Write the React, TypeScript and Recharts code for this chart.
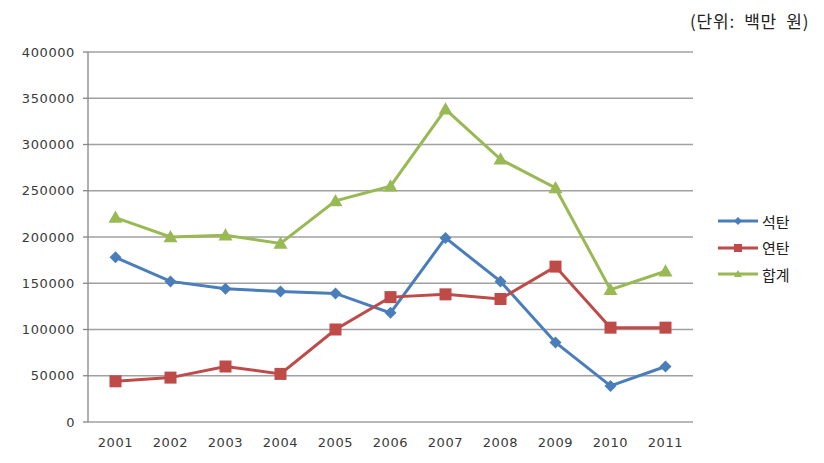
import { LineChart, Line, XAxis, YAxis, CartesianGrid } from 'recharts'

const years = ['2001', '2002', '2003', '2004', '2005', '2006', '2007', '2008', '2009', '2010', '2011']
const coal = [178000, 152000, 144000, 141000, 139000, 118000, 199000, 152000, 86000, 39000, 60000]
const briquette = [44000, 48000, 60000, 52000, 100000, 135000, 138000, 133000, 168000, 102000, 102000]
const total = [221000, 200000, 202000, 193000, 239000, 255000, 338000, 284000, 253000, 143000, 163000]
const yTicks = [0, 50000, 100000, 150000, 200000, 250000, 300000, 350000, 400000]
const bandTicks = [0, 1, 2, 3, 4, 5, 6, 7, 8, 9, 10, 11]

const BLUE = '#4a7ebb'
const RED = '#be4b48'
const GREEN = '#98b954'

const data = years.map((y, i) => ({ year: y, coal: coal[i], briquette: briquette[i], total: total[i] }))

const tickFont = { fill: '#3a3a3a', fontSize: 13, fontFamily: 'DejaVu Sans', letterSpacing: 0.6 }

function Diamond(props: any) {
  const { cx, cy, fill, size = 5 } = props
  if (cx == null || cy == null) return null
  return <polygon points={`${cx},${cy - size} ${cx + size},${cy} ${cx},${cy + size} ${cx - size},${cy}`} fill={fill} />
}

function Square(props: any) {
  const { cx, cy, fill, size = 5.5 } = props
  if (cx == null || cy == null) return null
  return <rect x={cx - size} y={cy - size} width={size * 2} height={size * 2} fill={fill} />
}

function Triangle(props: any) {
  const { cx, cy, fill, size = 6.5 } = props
  if (cx == null || cy == null) return null
  return <polygon points={`${cx},${cy - size} ${cx + size},${cy + size * 0.75} ${cx - size},${cy + size * 0.75}`} fill={fill} />
}

const legendItems = [
  { name: '석탄', color: BLUE, Shape: Diamond },
  { name: '연탄', color: RED, Shape: Square },
  { name: '합계', color: GREEN, Shape: Triangle },
]

function LegendBox() {
  return (
    <div style={{ position: 'absolute', left: 718, top: 208, fontFamily: '"Noto Sans CJK KR"', fontSize: 15, color: '#222' }}>
      {legendItems.map((it) => (
        <div key={it.name} style={{ display: 'flex', alignItems: 'center', height: 26.5 }}>
          <svg width={44} height={14}>
            <line x1={0} y1={7} x2={40} y2={7} stroke={it.color} strokeWidth={3} />
            <it.Shape cx={20} cy={7} fill={it.color} size={4} />
          </svg>
          <span>{it.name}</span>
        </div>
      ))}
    </div>
  )
}

export default function App() {
  return (
    <div style={{ position: 'absolute', left: 0, top: 0, width: 824, height: 463, background: '#fff' }}>
      <div
        style={{
          position: 'absolute',
          left: 690,
          top: 8,
          fontFamily: '"Noto Sans CJK KR"',
          fontSize: 17,
          color: '#222',
          whiteSpace: 'pre',
          letterSpacing: 0.8,
        }}
      >
        (단위:  백만  원)
      </div>
      <LineChart width={824} height={463} data={data} margin={{ top: 52, right: 131, bottom: 11, left: 0 }}>
        <CartesianGrid horizontal vertical={false} stroke="#a0a0a0" strokeWidth={1.3} xAxisId="cat" />
        <XAxis
          xAxisId="band"
          type="number"
          domain={[0, 11]}
          ticks={bandTicks}
          allowDataOverflow
          height={0}
          tickSize={6}
          tickFormatter={() => ''}
          stroke="#868686"
          strokeWidth={1.3}
        />
        <XAxis
          xAxisId="cat"
          dataKey="year"
          padding={{ left: 27.5, right: 27.5 }}
          axisLine={false}
          tickLine={false}
          height={30}
          tick={tickFont}
          tickMargin={10}
        />
        <YAxis
          width={88}
          domain={[0, 400000]}
          ticks={yTicks}
          interval={0}
          tick={tickFont}
          tickSize={5}
          tickMargin={8}
          stroke="#868686"
          strokeWidth={1.3}
        />
        <Line
          xAxisId="cat"
          dataKey="coal"
          name="석탄"
          stroke={BLUE}
          strokeWidth={3}
          dot={(p: any) => <Diamond key={`c${p.index}`} cx={p.cx} cy={p.cy} fill={BLUE} size={6} />}
          activeDot={false}
          isAnimationActive={false}
        />
        <Line
          xAxisId="cat"
          dataKey="briquette"
          name="연탄"
          stroke={RED}
          strokeWidth={3}
          dot={(p: any) => <Square key={`b${p.index}`} cx={p.cx} cy={p.cy} fill={RED} size={6} />}
          activeDot={false}
          isAnimationActive={false}
        />
        <Line
          xAxisId="cat"
          dataKey="total"
          name="합계"
          stroke={GREEN}
          strokeWidth={3}
          dot={(p: any) => <Triangle key={`t${p.index}`} cx={p.cx} cy={p.cy} fill={GREEN} size={7} />}
          activeDot={false}
          isAnimationActive={false}
        />
      </LineChart>
      <LegendBox />
    </div>
  )
}
